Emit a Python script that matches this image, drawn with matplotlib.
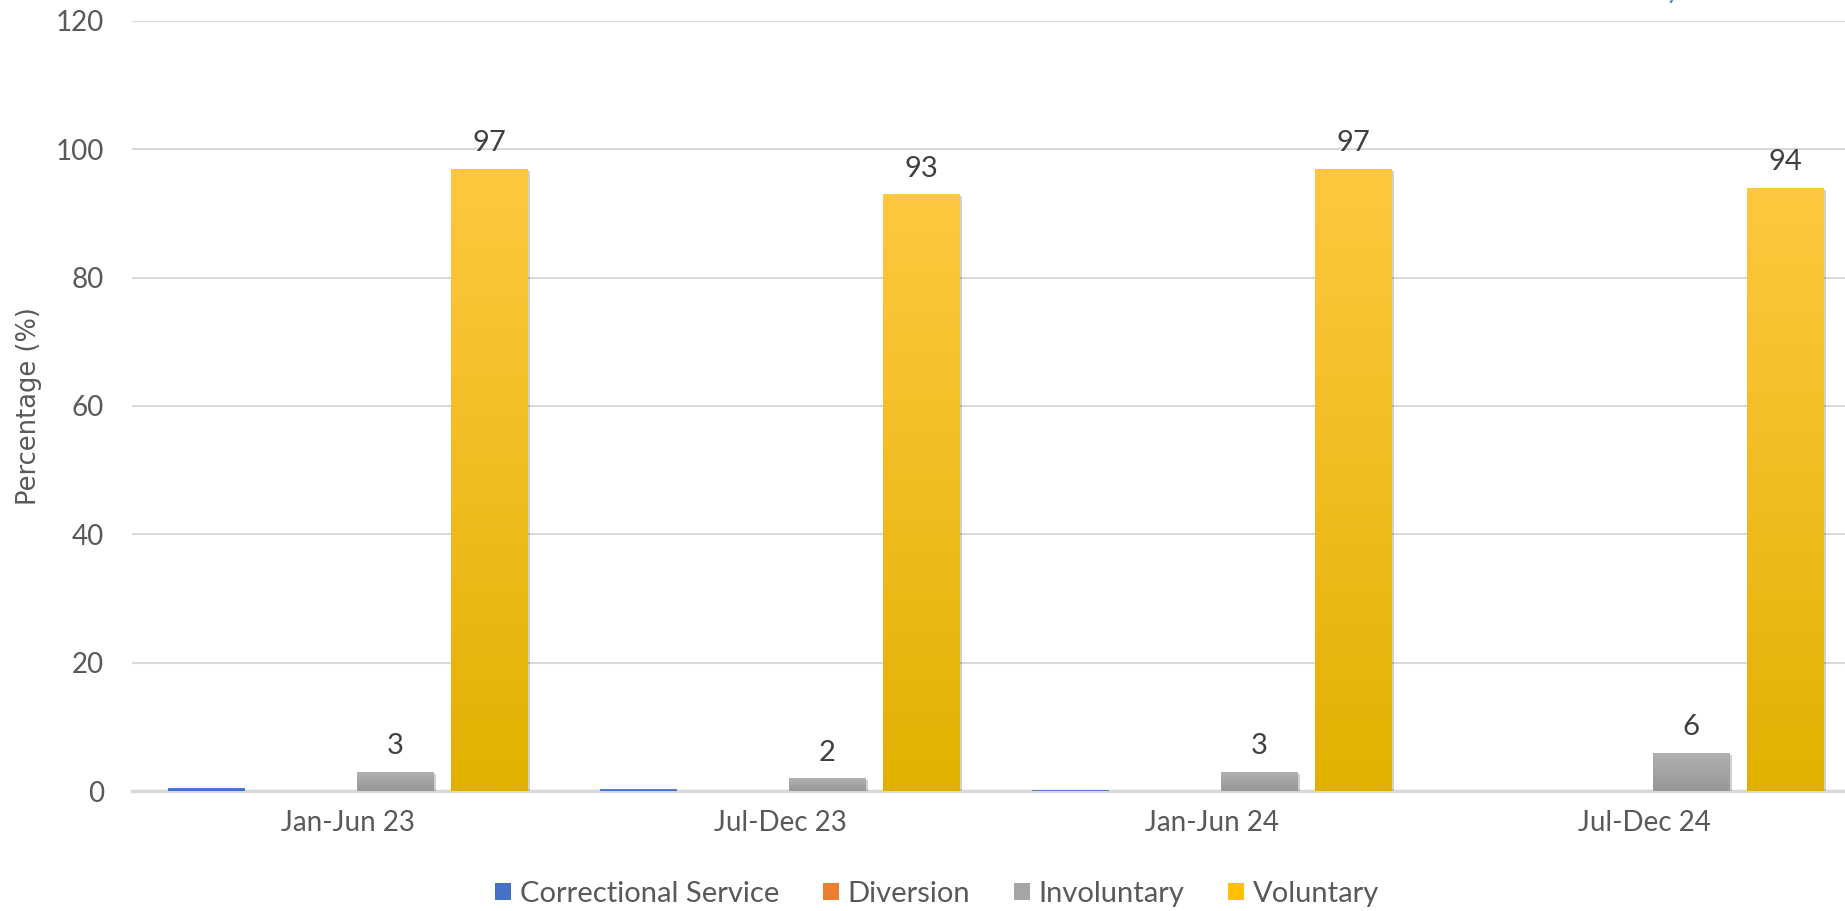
import numpy as np
import matplotlib
matplotlib.use("Agg")
import matplotlib.pyplot as plt
from matplotlib.colors import LinearSegmentedColormap
from matplotlib.patches import Patch
import matplotlib.patheffects as pe

categories = ["Jan-Jun 23", "Jul-Dec 23", "Jan-Jun 24", "Jul-Dec 24"]
series_names = ["Correctional Service", "Diversion", "Involuntary", "Voluntary"]
correctional = [0.5, 0.3, 0.1, 0.0]
diversion = [0.0, 0.0, 0.0, 0.0]
involuntary = [3, 2, 3, 6]
voluntary = [97, 93, 97, 94]
yticks = [0, 20, 40, 60, 80, 100, 120]

series_values = [correctional, diversion, involuntary, voluntary]
grad_colors = [("#5E8EDC", "#3966C3"), ("#F58D4F", "#E06A12"),
               ("#B1B1B1", "#979797"), ("#FFC840", "#E2B100")]
mid_colors = ["#4472C4", "#ED7D31", "#A5A5A5", "#FFC000"]
show_labels = [False, False, True, True]

plt.rcParams['font.family'] = ['Lato', 'DejaVu Sans']

fig = plt.figure(figsize=(18.45, 9.11), dpi=100)
ax = fig.add_axes([132/1845, 1 - 791/911, 1728/1845, (791 - 21)/911])

x = np.arange(len(categories))
slot = 0.218
width = 0.178
offsets = (np.arange(4) - 1.5) * slot

for i, (vals, (ctop, cbot)) in enumerate(zip(series_values, grad_colors)):
    bars = ax.bar(x + offsets[i], vals, width, color=mid_colors[i], zorder=3,
                  linewidth=0)
    cmap = LinearSegmentedColormap.from_list(f"g{i}", [cbot, ctop])
    for b in bars:
        h = b.get_height()
        if h <= 0:
            continue
        if h >= 1:
            b.set_path_effects([pe.SimplePatchShadow(offset=(1.5, -1.5), shadow_rgbFace="#000000", alpha=0.18),
                                pe.Normal()])
        grad = np.linspace(0, 1, 256).reshape(-1, 1)
        im = ax.imshow(grad, extent=[b.get_x(), b.get_x() + b.get_width(), 0, h],
                       origin="lower", aspect="auto", cmap=cmap, zorder=3.1,
                       interpolation="bilinear")
        im.set_clip_path(b)
    if show_labels[i]:
        ax.bar_label(bars, labels=[f"{v:g}" for v in vals], padding=9,
                     fontsize=21, color="#404040", zorder=5)

ax.set_xlim(-0.5, 3.5)
ax.set_ylim(0, 120)
ax.set_yticks(yticks)
ax.set_xticks(x)
ax.set_xticklabels(categories)
ax.tick_params(axis="both", length=0, labelsize=20, colors="#595959")
ax.tick_params(axis="y", pad=20)
ax.tick_params(axis="x", pad=14)
ax.yaxis.grid(True, color="#D9D9D9", linewidth=1.5, zorder=0)
ax.set_axisbelow(True)
for s in ["top", "right", "left"]:
    ax.spines[s].set_visible(False)
ax.spines["bottom"].set_color("#D9D9D9")
ax.spines["bottom"].set_linewidth(2.5)
ax.spines["bottom"].set_zorder(2)

fig.text(29/1845, 1 - 406/911, "Percentage (%)", rotation=90, ha="center", va="center",
         fontsize=18.5, color="#595959", family=["DejaVu Sans"])

handles = [Patch(facecolor=c, edgecolor="none") for c in mid_colors]
fig.legend(handles, series_names, loc="center", bbox_to_anchor=(937/1845, 1 - 894/911),
           ncol=4, frameon=False, fontsize=21, handlelength=0.55, handleheight=0.55,
           handletextpad=0.3, columnspacing=1.5, labelcolor="#595959")

fig.text(1673/1845, 1.0 + 2/911, "y", ha="center", va="baseline", fontsize=19.5,
         color="#2E8FD8")

fig.savefig("out.png", dpi=100)
